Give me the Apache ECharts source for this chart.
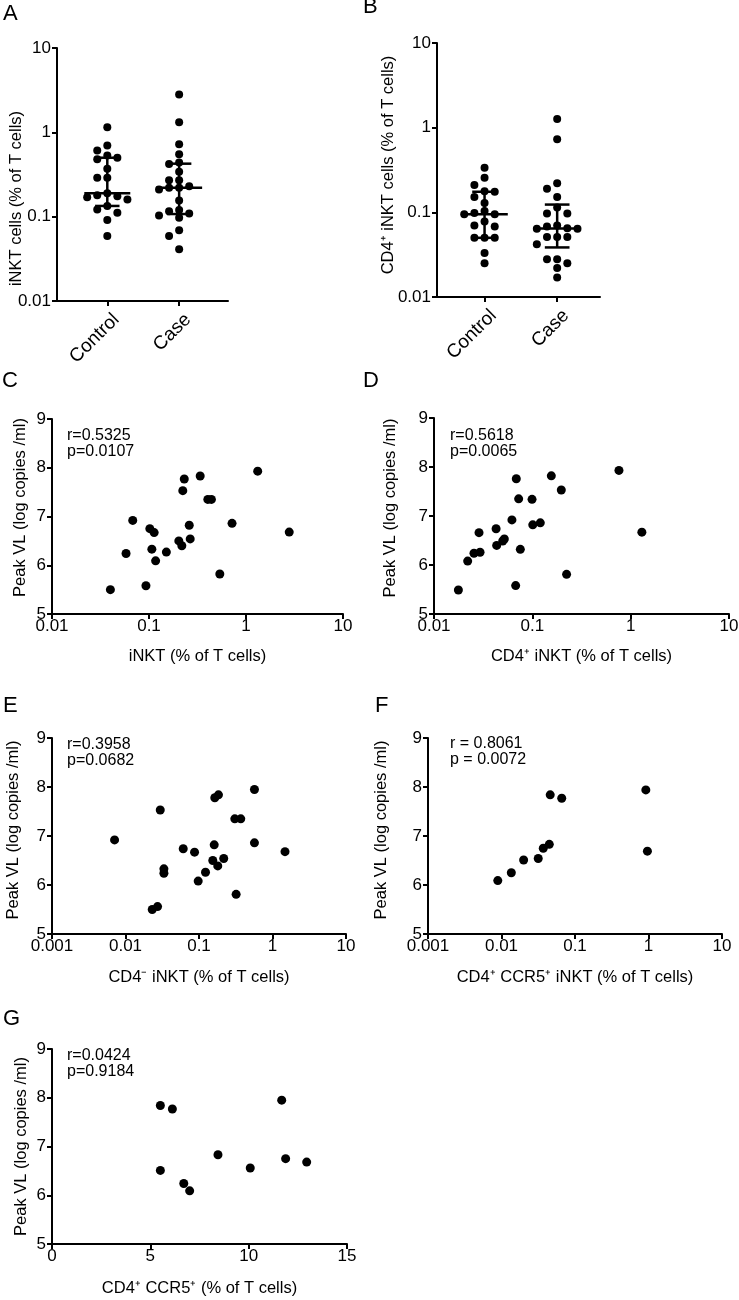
<!DOCTYPE html>
<html>
<head>
<meta charset="utf-8">
<script src="https://cdn.jsdelivr.net/npm/echarts@6/dist/echarts.min.js"></script>
<style>
html,body{margin:0;padding:0;background:#fff;}
#chart{width:739px;height:1300px;}
</style>
</head>
<body>
<div id="chart"></div>
<script>
// ---------------- data ----------------
const groupLabels = ['Control', 'Case'];
// Panel A: iNKT cells (% of T cells)
const aControl = [1.15, 0.70, 0.61, 0.53, 0.50, 0.48, 0.37, 0.29, 0.29, 0.19, 0.18, 0.175, 0.17, 0.16, 0.134, 0.122, 0.111, 0.091, 0.059];
const aCase = [2.8, 1.32, 0.72, 0.55, 0.44, 0.42, 0.34, 0.27, 0.27, 0.23, 0.22, 0.22, 0.21, 0.155, 0.12, 0.116, 0.109, 0.103, 0.097, 0.069, 0.059, 0.041];
// Panel B: CD4+ iNKT cells (% of T cells)
const bControl = [0.336, 0.256, 0.21, 0.178, 0.175, 0.152, 0.129, 0.104, 0.098, 0.095, 0.095, 0.078, 0.070, 0.068, 0.05, 0.05, 0.05, 0.033, 0.025];
const bCase = [1.27, 0.73, 0.22, 0.19, 0.152, 0.114, 0.097, 0.097, 0.070, 0.068, 0.065, 0.064, 0.064, 0.051, 0.051, 0.051, 0.042, 0.028, 0.028, 0.025, 0.022, 0.017];
// Panel C: iNKT vs peak VL
const cX = [0.040, 0.058, 0.068, 0.093, 0.102, 0.113, 0.107, 0.117, 0.151, 0.203, 0.218, 0.223, 0.231, 0.26, 0.266, 0.337, 0.404, 0.44, 0.537, 0.718, 1.32, 2.79];
const cVL = [5.50, 6.24, 6.92, 5.58, 6.75, 6.67, 6.33, 6.09, 6.27, 6.50, 6.40, 7.53, 7.77, 6.82, 6.54, 7.83, 7.35, 7.35, 5.82, 6.86, 7.93, 6.68];
// Panel D: CD4+ iNKT vs peak VL
const dX = [0.0177, 0.022, 0.0255, 0.0294, 0.0287, 0.0428, 0.0434, 0.0519, 0.050, 0.062, 0.0677, 0.0687, 0.0726, 0.0755, 0.0993, 0.101, 0.1205, 0.156, 0.197, 0.223, 0.76, 1.30];
const dVL = [5.49, 6.08, 6.24, 6.26, 6.66, 6.74, 6.40, 6.53, 6.49, 6.92, 5.58, 7.76, 7.35, 6.32, 7.34, 6.82, 6.86, 7.82, 7.53, 5.81, 7.93, 6.67];
// Panel E: CD4- iNKT vs peak VL
const eX = [0.0071, 0.0297, 0.0333, 0.0333, 0.061, 0.087, 0.0975, 0.1226, 0.154, 0.161, 0.164, 0.184, 0.18, 0.217, 0.307, 0.37, 0.32, 0.568, 0.568, 1.48, 0.0231, 0.0273];
const eVL = [6.92, 7.53, 6.33, 6.24, 6.74, 6.67, 6.08, 6.26, 6.50, 6.82, 7.78, 7.84, 6.39, 6.54, 7.35, 7.35, 5.81, 7.95, 6.86, 6.68, 5.50, 5.56];
// Panel F: CD4+ CCR5+ iNKT vs peak VL
const fX = [0.0089, 0.0136, 0.020, 0.0316, 0.037, 0.0447, 0.046, 0.066, 0.92, 0.966];
const fVL = [6.09, 6.25, 6.51, 6.54, 6.75, 6.83, 7.84, 7.77, 7.94, 6.69];
// Panel G: CD4+ CCR5+ vs peak VL
const gX = [5.51, 6.12, 11.68, 8.44, 11.88, 12.95, 10.08, 5.51, 6.7, 7.0];
const gVL = [7.84, 7.77, 7.95, 6.83, 6.75, 6.68, 6.56, 6.51, 6.24, 6.09];
// statistics text
const statsC = ['r=0.5325', 'p=0.0107'];
const statsD = ['r=0.5618', 'p=0.0065'];
const statsE = ['r=0.3958', 'p=0.0682'];
const statsF = ['r = 0.8061', 'p = 0.0072'];
const statsG = ['r=0.0424', 'p=0.9184'];
const vlTicks = [5, 6, 7, 8, 9];
const gTicks = [0, 5, 10, 15];

// ---------------- helpers ----------------
const FONT = "'Liberation Sans', Arial, Helvetica, sans-serif";
const BLACK = '#000';
const zip = (xs, ys) => xs.map((x, i) => [x, ys[i]]);
const logFmt = v => String(+(+v).toPrecision(6));

// beeswarm layout (GraphPad-like): place each dot in the nearest free column
function swarm(values, center, slot, minGap) {
  const pts = values.map(v => ({ v, l: Math.log10(v) })).sort((a, b) => b.l - a.l);
  const placed = [];
  const out = [];
  pts.forEach(p => {
    for (let k = 0; ; k++) {
      const s = k === 0 ? 0 : (k % 2 ? -(k + 1) / 2 : k / 2);
      if (!placed.some(q => q.s === s && Math.abs(q.l - p.l) < minGap)) {
        placed.push({ s, l: p.l });
        out.push([center + s * slot, p.v]);
        break;
      }
    }
  });
  return out;
}
function quant(values, p) {
  const s = [...values].sort((a, b) => a - b);
  const n = s.length;
  const h = (n + 1) * p;
  if (h <= 1) return s[0];
  if (h >= n) return s[n - 1];
  const i = Math.floor(h);
  return s[i - 1] + (h - i) * (s[i] - s[i - 1]);
}
const summary = (vals, c) => [c, quant(vals, 0.25), quant(vals, 0.5), quant(vals, 0.75)];

const axisCommon = {
  axisLine: { show: true, onZero: false, lineStyle: { color: BLACK, width: 2 } },
  axisTick: { show: true, inside: false, length: 5, lineStyle: { color: BLACK, width: 2 } },
  axisLabel: { color: BLACK, fontSize: 17, fontFamily: FONT, margin: 6 },
  splitLine: { show: false },
  nameLocation: 'middle',
  nameMoveOverlap: false,
  nameTextStyle: { color: BLACK, fontSize: 16.5, fontFamily: FONT }
};
function ax(o) {
  const r = Object.assign({}, axisCommon, o);
  r.axisLabel = Object.assign({}, axisCommon.axisLabel, o.axisLabel || {});
  r.axisTick = Object.assign({}, axisCommon.axisTick, o.axisTick || {});
  r.nameTextStyle = Object.assign({}, axisCommon.nameTextStyle, o.nameTextStyle || {});
  return r;
}
const logX = (gi, min, name, gap) => ax({
  gridIndex: gi, type: 'log', logBase: 10, min, max: 10, name, nameGap: gap,
  axisLabel: { formatter: logFmt, margin: 4 }
});
const vlY = (gi, gap, pad) => ax({
  gridIndex: gi, type: 'value', min: vlTicks[0], max: vlTicks[vlTicks.length - 1], interval: 1,
  name: 'Peak VL (log copies /ml)', nameGap: gap,
  nameTextStyle: { padding: pad }
});

const grids = [
  { left: 57, top: 48, width: 171, height: 253 },   // A
  { left: 437, top: 43, width: 163, height: 254 },  // B
  { left: 52, top: 419, width: 291, height: 195 },  // C
  { left: 434, top: 418, width: 295, height: 196 }, // D
  { left: 52, top: 738, width: 294, height: 196 },  // E
  { left: 428, top: 738, width: 294, height: 196 }, // F
  { left: 52, top: 1049, width: 295, height: 195 }  // G
].map(g => Object.assign({ containLabel: false, outerBoundsMode: 'none' }, g));

const catAxis = (gi, min, max) => ax({
  gridIndex: gi, type: 'value', min, max,
  axisTick: { customValues: [1, 2] },
  axisLabel: {
    customValues: [1.03, 2.03], rotate: 45, margin: 9, align: 'right', verticalAlign: 'top',
    fontSize: 19, formatter: v => groupLabels[Math.round(v) - 1]
  }
});

const xAxes = [
  catAxis(0, 0.30, 2.68),
  catAxis(1, 0.345, 2.59),
  logX(2, 0.01, 'iNKT (% of T cells)', 34),
  logX(3, 0.01, 'CD4\u207A iNKT (% of T cells)', 34),
  logX(4, 0.001, 'CD4\u207B iNKT (% of T cells)', 35),
  logX(5, 0.001, 'CD4\u207A CCR5\u207A iNKT (% of T cells)', 35),
  ax({ gridIndex: 6, type: 'value', min: gTicks[0], max: gTicks[gTicks.length - 1], interval: 5,
       name: 'CD4\u207A CCR5\u207A (% of T cells)', nameGap: 36, axisLabel: { margin: 4 } })
];
const yAxes = [
  ax({ gridIndex: 0, type: 'log', logBase: 10, min: 0.01, max: 10, axisLabel: { formatter: logFmt },
       name: 'iNKT cells (% of T cells)', nameGap: 32, nameTextStyle: { padding: [0, 48, 0, 0] } }),
  ax({ gridIndex: 1, type: 'log', logBase: 10, min: 0.01, max: 10, axisLabel: { formatter: logFmt },
       name: 'CD4\u207A iNKT cells (% of T cells)', nameGap: 40, nameTextStyle: { padding: [0, 0, 0, 10] } }),
  vlY(2, 23, [0, 0, 0, 18]),
  vlY(3, 35, [0, 0, 0, 16]),
  vlY(4, 30, [0, 0, 0, 12]),
  vlY(5, 38, [0, 0, 0, 12]),
  vlY(6, 22, [0, 0, 0, 0])
];

const dot = (xi, data, size) => ({
  type: 'scatter', xAxisIndex: xi, yAxisIndex: xi, data,
  symbol: 'circle', symbolSize: size || 9, itemStyle: { color: BLACK, opacity: 1 },
  emphasis: { disabled: true }, silent: true, z: 2
});
const SLOT = 0.14, GAP = 0.088, MED_HW = 0.32, Q_HW = 0.17;
const bars = (xi, rows) => ({
  type: 'custom', xAxisIndex: xi, yAxisIndex: xi, data: rows, z: 3, silent: true,
  renderItem: (params, api) => {
    const c = api.value(0), q1 = api.value(1), md = api.value(2), q3 = api.value(3);
    const seg = (a, b) => ({ type: 'line', shape: { x1: a[0], y1: a[1], x2: b[0], y2: b[1] },
                             style: { stroke: BLACK, lineWidth: 2.5 } });
    return { type: 'group', children: [
      seg(api.coord([c, q1]), api.coord([c, q3])),
      seg(api.coord([c - MED_HW, md]), api.coord([c + MED_HW, md])),
      seg(api.coord([c - Q_HW, q1]), api.coord([c + Q_HW, q1])),
      seg(api.coord([c - Q_HW, q3]), api.coord([c + Q_HW, q3]))
    ] };
  }
});

const series = [
  dot(0, swarm(aControl, 1, SLOT, GAP), 8),
  dot(0, swarm(aCase, 2, SLOT, GAP), 8),
  bars(0, [summary(aControl, 1), summary(aCase, 2)]),
  dot(1, swarm(bControl, 1, SLOT, GAP), 8),
  dot(1, swarm(bCase, 2, SLOT, GAP), 8),
  bars(1, [summary(bControl, 1), summary(bCase, 2)]),
  dot(2, zip(cX, cVL)),
  dot(3, zip(dX, dVL)),
  dot(4, zip(eX, eVL)),
  dot(5, zip(fX, fVL)),
  dot(6, zip(gX, gVL))
];

const letter = (t, x, y) => ({ type: 'text', left: x, top: y, silent: true,
  style: { text: t, fontSize: 22, fontFamily: FONT, fill: BLACK } });
const stat = (lines, x, y) => ({ type: 'text', left: x, top: y, silent: true,
  style: { text: lines.join('\n'), fontSize: 16, lineHeight: 16, fontFamily: FONT, fill: BLACK } });

const graphic = [
  letter('A', 3, 3), letter('B', 363, -4), letter('C', 2, 370), letter('D', 363, 370),
  letter('E', 3, 695), letter('F', 375, 695), letter('G', 3, 1008),
  stat(statsC, 67, 428), stat(statsD, 450, 428), stat(statsE, 67, 737),
  stat(statsF, 450, 736), stat(statsG, 67, 1048)
];

const chart = echarts.init(document.getElementById('chart'), null, { renderer: 'canvas' });
chart.setOption({
  animation: false,
  backgroundColor: '#fff',
  textStyle: { fontFamily: FONT },
  grid: grids,
  xAxis: xAxes,
  yAxis: yAxes,
  series,
  graphic
});
</script>
</body>
</html>
